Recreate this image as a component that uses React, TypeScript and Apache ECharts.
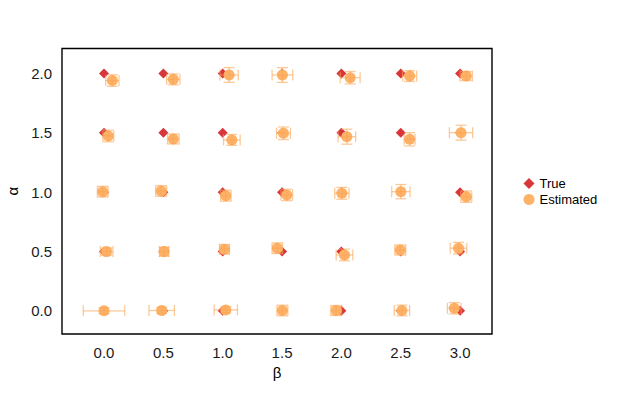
import React, { useEffect, useRef } from "react";
import * as echarts from "echarts";

// True parameter values (beta, alpha)
const trueBeta = [
  0, 0.5, 1, 1.5, 2, 2.5, 3,
  0, 0.5, 1, 1.5, 2, 2.5, 3,
  0, 0.5, 1, 1.5, 2, 2.5, 3,
  0, 0.5, 1, 1.5, 2, 2.5, 3,
  0, 0.5, 1, 1.5, 2, 2.5, 3,
];
const trueAlpha = [
  0, 0, 0, 0, 0, 0, 0,
  0.5, 0.5, 0.5, 0.5, 0.5, 0.5, 0.5,
  1, 1, 1, 1, 1, 1, 1,
  1.5, 1.5, 1.5, 1.5, 1.5, 1.5, 1.5,
  2, 2, 2, 2, 2, 2, 2,
];

// Estimated values with errors
const estBeta = [
  0.0, 0.486, 1.026, 1.503, 1.956, 2.51, 2.951,
  0.022, 0.506, 1.015, 1.46, 2.026, 2.496, 2.987,
  -0.011, 0.481, 1.026, 1.54, 2.004, 2.501, 3.052,
  0.036, 0.584, 1.077, 1.512, 2.046, 2.575, 3.008,
  0.07, 0.584, 1.054, 1.503, 2.074, 2.575, 3.052,
];
const estAlpha = [
  0.0, 0.003, 0.008, 0.003, 0.003, 0.003, 0.022,
  0.499, 0.499, 0.519, 0.528, 0.471, 0.513, 0.528,
  1.004, 1.01, 0.97, 0.976, 0.99, 1.004, 0.962,
  1.473, 1.448, 1.44, 1.496, 1.467, 1.445, 1.501,
  1.94, 1.95, 1.987, 1.987, 1.964, 1.978, 1.978,
];
const errBeta = [
  0.175, 0.107, 0.098, 0.046, 0.045, 0.065, 0.058,
  0.053, 0.038, 0.042, 0.044, 0.07, 0.046, 0.07,
  0.045, 0.046, 0.044, 0.049, 0.06, 0.077, 0.046,
  0.046, 0.049, 0.07, 0.059, 0.074, 0.046, 0.098,
  0.056, 0.056, 0.077, 0.087, 0.084, 0.059, 0.052,
];
const errAlpha = [
  0.025, 0.025, 0.025, 0.045, 0.042, 0.045, 0.048,
  0.03, 0.038, 0.04, 0.045, 0.049, 0.042, 0.049,
  0.045, 0.045, 0.046, 0.048, 0.05, 0.06, 0.048,
  0.049, 0.042, 0.046, 0.053, 0.063, 0.056, 0.063,
  0.049, 0.046, 0.062, 0.062, 0.052, 0.046, 0.038,
];

const xTicks = [0, 0.5, 1, 1.5, 2, 2.5, 3];
const yTicks = [0, 0.5, 1, 1.5, 2];

const RED = "#D7373B";
const ORANGE = "rgb(253,178,104)";
const ORANGE_ERR = "rgba(252,165,85,0.6)";
const FONT = "Liberation Sans, Arial, sans-serif";

export default function App() {
  const ref = useRef<HTMLDivElement>(null);
  useEffect(() => {
    if (!ref.current) return;
    const chart = echarts.init(ref.current, null, { renderer: "svg" });
    const trueData = trueBeta.map((b, i) => [b, trueAlpha[i]]);
    const estData = estBeta.map((b, i) => [b, estAlpha[i]]);
    const errData = estBeta.map((b, i) => [b, estAlpha[i], errBeta[i], errAlpha[i]]);
    const cap = 5.5;
    chart.setOption({
      animation: false,
      textStyle: { fontFamily: FONT },
      grid: {
        left: 62,
        top: 48.5,
        width: 430,
        height: 285.5,
        containLabel: false,
        outerBoundsMode: "none",
        show: true,
        borderColor: "#000",
        borderWidth: 1.4,
        backgroundColor: "transparent",
      },
      legend: {
        orient: "vertical",
        left: 518.5,
        top: 172,
        itemWidth: 11,
        itemHeight: 11,
        itemGap: 3,
        itemTextGap: 6,
        textStyle: { fontSize: 13, color: "#000", fontFamily: FONT },
        data: [
          { name: "True", icon: "diamond", itemStyle: { color: RED } },
          { name: "Estimated", icon: "circle", itemStyle: { color: ORANGE } },
        ],
      },
      xAxis: {
        type: "value",
        min: -0.354,
        max: 3.269,
        name: "β",
        nameLocation: "middle",
        nameGap: 30,
        nameTextStyle: { fontSize: 15, color: "#000", fontFamily: FONT },
        axisLine: { show: false },
        splitLine: { show: false },
        axisTick: {
          show: true,
          length: 4,
          lineStyle: { color: "#000", width: 1 },
          customValues: xTicks,
        },
        axisLabel: {
          fontSize: 15,
          color: "#1a1a1a",
          margin: 11,
          fontFamily: FONT,
          customValues: xTicks,
          formatter: (v: number) => v.toFixed(1),
        },
      },
      yAxis: {
        type: "value",
        min: -0.195,
        max: 2.21,
        name: "α",
        nameLocation: "middle",
        nameGap: 39,
        nameRotate: 90,
        nameTextStyle: { fontSize: 15, color: "#000", fontFamily: FONT },
        axisLine: { show: false },
        splitLine: { show: false },
        axisTick: {
          show: true,
          length: 4,
          lineStyle: { color: "#000", width: 1 },
          customValues: yTicks,
        },
        axisLabel: {
          fontSize: 15,
          color: "#1a1a1a",
          margin: 10,
          fontFamily: FONT,
          customValues: yTicks,
          formatter: (v: number) => v.toFixed(1),
        },
      },
      series: [
        {
          name: "True",
          type: "scatter",
          symbol: "diamond",
          symbolSize: 10,
          itemStyle: { color: RED, opacity: 1 },
          data: trueData,
          z: 2,
        },
        {
          name: "Estimated",
          type: "scatter",
          symbol: "circle",
          symbolSize: 11,
          itemStyle: { color: ORANGE, opacity: 1 },
          data: estData,
          z: 3,
        },
        {
          name: "err",
          type: "custom",
          z: 4,
          data: errData,
          renderItem: (params: any, api: any) => {
            const x = api.value(0);
            const y = api.value(1);
            const ex = api.value(2);
            const ey = api.value(3);
            const c = api.coord([x, y]);
            const l = api.coord([x - ex, y]);
            const r = api.coord([x + ex, y]);
            const t = api.coord([x, y + ey]);
            const b = api.coord([x, y - ey]);
            const style = { stroke: ORANGE_ERR, lineWidth: 1.3, fill: null };
            const ln = (x1: number, y1: number, x2: number, y2: number) => ({
              type: "line",
              shape: { x1, y1, x2, y2 },
              style,
            });
            return {
              type: "group",
              children: [
                ln(l[0], c[1], r[0], c[1]),
                ln(l[0], c[1] - cap, l[0], c[1] + cap),
                ln(r[0], c[1] - cap, r[0], c[1] + cap),
                ln(c[0], t[1], c[0], b[1]),
                ln(c[0] - cap, t[1], c[0] + cap, t[1]),
                ln(c[0] - cap, b[1], c[0] + cap, b[1]),
              ],
            };
          },
        },
      ],
    });
    return () => chart.dispose();
  }, []);
  return (
    <div
      ref={ref}
      style={{ position: "absolute", left: 0, top: 0, width: 623, height: 415, background: "#fff" }}
    />
  );
}
